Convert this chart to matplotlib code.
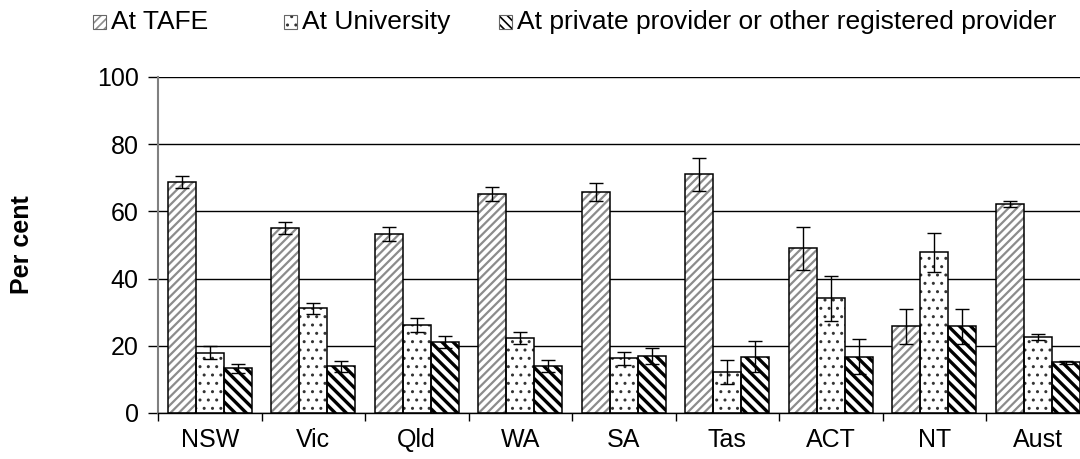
import numpy as np
import matplotlib
matplotlib.use("Agg")
import matplotlib.pyplot as plt
from matplotlib.patches import Rectangle

plt.rcParams['font.family'] = ['Liberation Sans', 'DejaVu Sans']

states = ['NSW', 'Vic', 'Qld', 'WA', 'SA', 'Tas', 'ACT', 'NT', 'Aust']
series_names = ['At TAFE', 'At University',
                'At private provider or other registered provider']

tafe = [68.7, 55.0, 53.2, 65.1, 65.7, 71.0, 49.0, 25.8, 62.1]
tafe_err = [1.8, 1.8, 2.1, 2.1, 2.7, 5.0, 6.5, 5.2, 0.9]
uni = [18.0, 31.2, 26.2, 22.2, 16.3, 12.1, 34.1, 47.8, 22.7]
uni_err = [1.8, 1.6, 2.1, 1.8, 2.0, 3.6, 6.6, 5.9, 0.9]
priv = [13.3, 13.9, 21.0, 13.9, 16.9, 16.8, 16.8, 25.8, 15.1]
priv_err = [1.3, 1.7, 1.8, 1.8, 2.3, 4.7, 5.3, 5.3, 0.5]

# hatch styles per series: (hatch, hatch colour, hatch line width)
styles = [('////', '#8c8c8c', 1.6),
          ('..', '#333333', 1.0),
          ('\\\\\\', '#000000', 2.4)]

W, H = 1080, 459
fig = plt.figure(figsize=(W / 100, H / 100), dpi=100)
ax = fig.add_axes([158 / W, 1 - 413 / H, 931.5 / W, 336 / H])

x = np.arange(len(states))
width = 0.27
for k, (vals, errs) in enumerate([(tafe, tafe_err), (uni, uni_err), (priv, priv_err)]):
    hatch, hcol, hlw = styles[k]
    pos = x + (k - 1) * width
    with plt.rc_context({'hatch.linewidth': hlw}):
        ax.bar(pos, vals, width, color='white', edgecolor=hcol, hatch=hatch,
               linewidth=0, zorder=2)
    ax.bar(pos, vals, width, fill=False, edgecolor='black', linewidth=1.1, zorder=3)
    ax.errorbar(pos, vals, yerr=errs, fmt='none', ecolor='black', elinewidth=1,
                capsize=5, capthick=1, zorder=4)

ax.set_xlim(-0.5, len(states) - 0.5)
ax.set_ylim(0, 100)
ax.set_yticks(np.arange(0, 101, 20))
ax.yaxis.grid(True, color='black', linewidth=1)
ax.set_axisbelow(True)
ax.tick_params(axis='y', labelsize=18, length=7, width=1, direction='out', pad=7)

ax.set_xticks(np.arange(len(states) + 1) - 0.5)
ax.set_xticklabels([])
ax.set_xticks(x, minor=True)
ax.set_xticklabels(states, minor=True)
ax.tick_params(axis='x', which='major', length=6, width=1, direction='out')
ax.tick_params(axis='x', which='minor', length=0, labelsize=18, pad=11)

ax.spines['top'].set_visible(False)
ax.spines['right'].set_visible(False)
ax.spines['left'].set_color('#808080')
ax.spines['left'].set_linewidth(1.5)
ax.spines['bottom'].set_linewidth(1)

fig.text(22 / W, 1 - 245 / H, 'Per cent', rotation=90, fontsize=18,
         fontweight='bold', ha='center', va='center')

# legend drawn by hand to match the original spacing
legend_x = [93, 284, 499]
legend_y = 22
box = 13
for k, name in enumerate(series_names):
    hatch, hcol, hlw = styles[k]
    x0 = legend_x[k]
    with plt.rc_context({'hatch.linewidth': min(hlw, 1.2)}):
        fig.add_artist(Rectangle((x0 / W, 1 - (legend_y + box / 2) / H), box / W, box / H,
                                 transform=fig.transFigure, facecolor='white',
                                 edgecolor=hcol, hatch=hatch.replace('\\\\\\', '\\\\\\\\'),
                                 linewidth=0))
    fig.add_artist(Rectangle((x0 / W, 1 - (legend_y + box / 2) / H), box / W, box / H,
                             transform=fig.transFigure, fill=False,
                             edgecolor='#666666', linewidth=0.8))
    fig.text((x0 + box + 5) / W, 1 - legend_y / H, name, fontsize=19,
             ha='left', va='center')

fig.savefig('out.png', dpi=100)
